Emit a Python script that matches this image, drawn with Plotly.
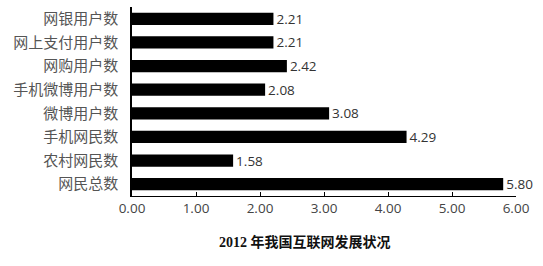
import plotly.graph_objects as go

categories = ["网银用户数", "网上支付用户数", "网购用户数", "手机微博用户数",
              "微博用户数", "手机网民数", "农村网民数", "网民总数"]
values = [2.21, 2.21, 2.42, 2.08, 3.08, 4.29, 1.58, 5.80]
x_ticks = [0, 1, 2, 3, 4, 5, 6]
title_text = "2012 年我国互联网发展状况"

fig = go.Figure()
fig.add_trace(go.Bar(
    y=categories, x=values, orientation="h",
    marker=dict(color="#000000", line=dict(width=0)),
    text=[f"{v:.2f}" for v in values], textposition="outside",
    constraintext="none",
    textfont=dict(family="Open Sans, Noto Sans CJK SC", size=13.5, color="#333333"),
    cliponaxis=False, width=0.52,
))

fig.update_layout(
    width=543, height=266,
    margin=dict(l=132, r=27, t=7, b=70),
    paper_bgcolor="white", plot_bgcolor="white",
    showlegend=False,
    xaxis=dict(range=[0, 6], tickvals=x_ticks, tickformat=".2f",
               showgrid=False, zeroline=False,
               showline=True, linecolor="#000000", linewidth=1.2,
               ticks="inside", ticklen=4, tickcolor="#000000", tickwidth=1,
               tickfont=dict(family="Open Sans, Noto Sans CJK SC", size=13.5, color="#444444")),
    yaxis=dict(autorange="reversed", showgrid=False, zeroline=False,
               showline=True, linecolor="#000000", linewidth=1.5,
               ticks="", ticklabelstandoff=9,
               tickfont=dict(family="Noto Sans CJK SC", size=15, color="#555555")),
    annotations=[dict(text=f"<b>{title_text}</b>", xref="paper", yref="paper",
                      x=(305 - 132) / (543 - 132 - 27), y=-(242 - 196) / (266 - 7 - 70),
                      xanchor="center", yanchor="middle", showarrow=False,
                      font=dict(family="Liberation Serif, Noto Sans CJK SC", size=14, color="#111111"))],
)

fig.write_html("out.html")
